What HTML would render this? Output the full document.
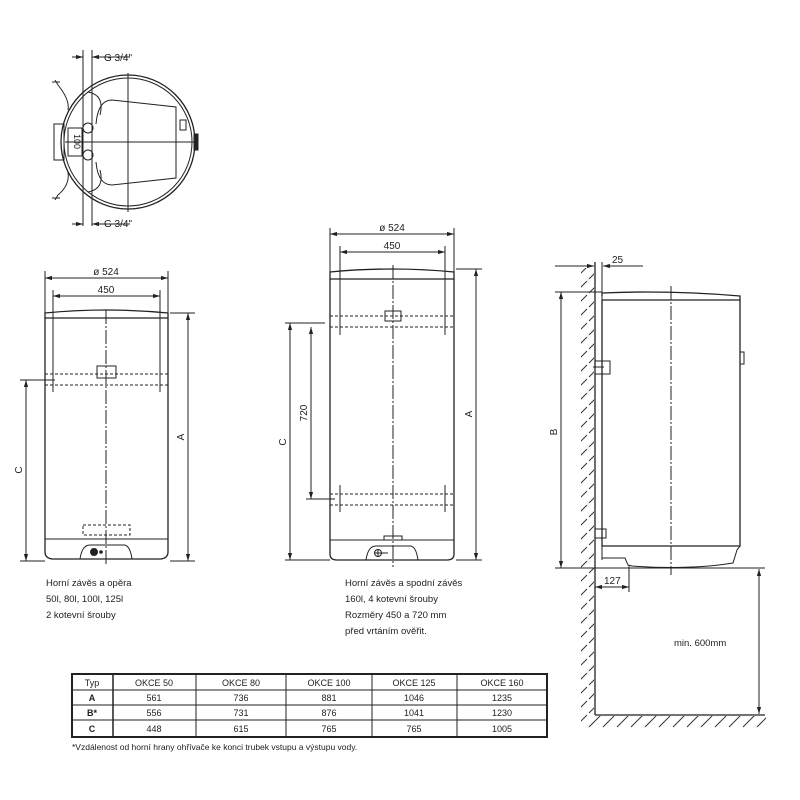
<!DOCTYPE html>
<html><head><meta charset="utf-8"><style>
body{margin:0;background:#fff}
svg{display:block}
text{font-family:"Liberation Sans",sans-serif;fill:#222}
</style></head><body>
<svg width="800" height="800" viewBox="0 0 800 800" xmlns="http://www.w3.org/2000/svg">
<defs>
<marker id="a" viewBox="0 0 10 10" refX="10" refY="5" markerWidth="7" markerHeight="7" orient="auto-start-reverse"><path d="M0,2 L10,5 L0,8 z" fill="#222"/></marker>
<pattern id="h" width="14" height="14" patternUnits="userSpaceOnUse"><path d="M1,13 L13,1" stroke="#333" stroke-width="1"/></pattern>
</defs>
<g stroke="#222" fill="none" stroke-width="1">

<!-- TOP VIEW -->
<circle cx="128" cy="142" r="67" stroke-width="1.3"/>
<circle cx="128" cy="142" r="64"/>
<line x1="128" y1="73" x2="128" y2="212"/>
<line x1="65" y1="142" x2="198" y2="142"/>
<line x1="83" y1="50" x2="83" y2="226"/><line x1="92" y1="50" x2="92" y2="226"/>
<line x1="72" y1="57" x2="83" y2="57" marker-end="url(#a)"/><line x1="130" y1="57" x2="92" y2="57" marker-end="url(#a)"/>
<line x1="72" y1="224" x2="83" y2="224" marker-end="url(#a)"/><line x1="130" y1="224" x2="92" y2="224" marker-end="url(#a)"/>
<path d="M96,124 Q98,100 112,100 L176,107 L176,178 L112,185 Q98,185 96,162"/>
<path d="M88,92 Q105,95 100,115"/><path d="M88,192 Q105,189 100,170"/>
<rect x="54" y="124" width="10" height="36"/>
<path d="M55,80 L58,85 Q70,100 68,110"/><path d="M55,200 L58,195 Q70,185 68,172"/>
<line x1="52" y1="82" x2="60" y2="82"/><line x1="52" y1="198" x2="60" y2="198"/>
<rect x="68" y="128" width="14" height="28"/>
<circle cx="88" cy="128" r="5"/><circle cx="88" cy="155" r="5"/>
<rect x="194" y="134" width="4" height="16" fill="#222"/>
<rect x="180" y="120" width="6" height="10"/>

<!-- LEFT HEATER -->
<line x1="45" y1="271" x2="45" y2="318"/><line x1="168" y1="271" x2="168" y2="318"/>
<line x1="45" y1="278" x2="168" y2="278" marker-start="url(#a)" marker-end="url(#a)"/>
<line x1="53" y1="290" x2="53" y2="392"/><line x1="160" y1="290" x2="160" y2="392"/>
<line x1="53" y1="296" x2="160" y2="296" marker-start="url(#a)" marker-end="url(#a)"/>
<path d="M45,318 L45,313 Q106,307 168,313 L168,318 Z" stroke-width="1.3"/>
<path d="M45,318 L45,552 Q45,558 52,559 L161,559 Q168,558 168,552 L168,318" stroke-width="1.3"/>
<line x1="45" y1="539" x2="168" y2="539"/>
<path d="M80,559 Q82,545 90,545 L124,545 Q130,545 132,559"/>
<circle cx="94" cy="552" r="3.5" fill="#222"/><circle cx="101" cy="552" r="1.3" fill="#222"/>
<rect x="97" y="366" width="19" height="12"/>
<line x1="45" y1="374" x2="168" y2="374" stroke-dasharray="3,2"/>
<line x1="45" y1="385" x2="168" y2="385" stroke-dasharray="3,2"/>
<rect x="83" y="525" width="47" height="10" stroke-dasharray="3,2"/>
<line x1="106" y1="310" x2="106" y2="566" stroke-dasharray="14,2,2,2"/>
<line x1="170" y1="313" x2="195" y2="313"/><line x1="170" y1="561" x2="195" y2="561"/>
<line x1="188" y1="313" x2="188" y2="561" marker-start="url(#a)" marker-end="url(#a)"/>
<line x1="20" y1="380" x2="55" y2="380"/><line x1="20" y1="561" x2="45" y2="561"/>
<line x1="26" y1="380" x2="26" y2="561" marker-start="url(#a)" marker-end="url(#a)"/>

<!-- MIDDLE HEATER -->
<line x1="330" y1="228" x2="330" y2="275"/><line x1="454" y1="228" x2="454" y2="275"/>
<line x1="330" y1="234" x2="454" y2="234" marker-start="url(#a)" marker-end="url(#a)"/>
<line x1="340" y1="246" x2="340" y2="335"/><line x1="445" y1="246" x2="445" y2="335"/>
<line x1="340" y1="252" x2="445" y2="252" marker-start="url(#a)" marker-end="url(#a)"/>
<path d="M330,279 L330,272 Q392,266 454,272 L454,279 Z" stroke-width="1.3"/>
<path d="M330,279 L330,554 Q330,560 337,560 L447,560 Q454,560 454,554 L454,279" stroke-width="1.3"/>
<line x1="330" y1="540" x2="454" y2="540"/>
<rect x="384" y="536" width="18" height="4"/>
<path d="M366,560 Q368,546 376,546 L410,546 Q416,546 418,560"/>
<circle cx="378" cy="553" r="3.5"/><line x1="374" y1="553" x2="388" y2="553"/><line x1="378" y1="549" x2="378" y2="557"/>
<rect x="385" y="311" width="16" height="10"/>
<line x1="330" y1="316" x2="454" y2="316" stroke-dasharray="3,2"/><line x1="330" y1="327" x2="454" y2="327" stroke-dasharray="3,2"/>
<line x1="330" y1="494" x2="454" y2="494" stroke-dasharray="3,2"/><line x1="330" y1="505" x2="454" y2="505" stroke-dasharray="3,2"/>
<line x1="340" y1="485" x2="340" y2="512"/><line x1="445" y1="485" x2="445" y2="512"/>
<line x1="393" y1="265" x2="393" y2="567" stroke-dasharray="14,2,2,2"/>
<line x1="456" y1="269" x2="482" y2="269"/><line x1="456" y1="560" x2="482" y2="560"/>
<line x1="476" y1="269" x2="476" y2="560" marker-start="url(#a)" marker-end="url(#a)"/>
<line x1="285" y1="323" x2="325" y2="323"/><line x1="285" y1="560" x2="330" y2="560"/>
<line x1="290" y1="323" x2="290" y2="560" marker-start="url(#a)" marker-end="url(#a)"/>
<line x1="306" y1="499" x2="335" y2="499"/>
<line x1="311" y1="327" x2="311" y2="499" marker-start="url(#a)" marker-end="url(#a)"/>

<!-- RIGHT SIDE VIEW -->
<rect x="581" y="268" width="13" height="460" fill="url(#h)" stroke="none"/>
<rect x="594" y="716" width="172" height="12" fill="url(#h)" stroke="none"/>
<line x1="595" y1="262" x2="595" y2="715" stroke-width="1.3"/>
<line x1="595" y1="715" x2="765" y2="715" stroke-width="1.3"/>
<line x1="602" y1="262" x2="602" y2="560"/>
<line x1="555" y1="266" x2="594" y2="266" marker-end="url(#a)"/><line x1="643" y1="266" x2="603" y2="266" marker-end="url(#a)"/>
<path d="M602,296 L602,293 Q670,290 740,296 L740,300 L602,300" stroke-width="1.3"/>
<path d="M602,300 L602,546 L740,546 L740,300" stroke-width="1.3"/>
<path d="M602,546 L602,558 L625,558 L628,565 L632,566 Q690,570 733,563 L737,550 L740,546"/>
<rect x="740" y="352" width="4" height="12"/>
<rect x="595" y="361" width="15" height="13"/><line x1="593" y1="367" x2="604" y2="367"/>
<rect x="595" y="529" width="11" height="9"/>
<line x1="671" y1="286" x2="671" y2="575" stroke-dasharray="14,2,2,2"/>
<line x1="555" y1="292" x2="602" y2="292"/><line x1="555" y1="568" x2="765" y2="568"/>
<line x1="561" y1="292" x2="561" y2="568" marker-start="url(#a)" marker-end="url(#a)"/>
<line x1="629" y1="565" x2="629" y2="592"/>
<line x1="595" y1="587" x2="629" y2="587" marker-start="url(#a)" marker-end="url(#a)"/>
<line x1="759" y1="569" x2="759" y2="714" marker-start="url(#a)" marker-end="url(#a)"/>

<!-- TABLE -->
<rect x="72" y="674" width="475" height="63" stroke-width="2"/>
<line x1="72" y1="690" x2="547" y2="690"/><line x1="72" y1="705" x2="547" y2="705"/><line x1="72" y1="720" x2="547" y2="720"/>
<line x1="113" y1="674" x2="113" y2="737" stroke-width="1.5"/><line x1="196" y1="674" x2="196" y2="737"/><line x1="286" y1="674" x2="286" y2="737"/><line x1="372" y1="674" x2="372" y2="737"/><line x1="457" y1="674" x2="457" y2="737"/>
</g>

<g font-size="10">
<text x="104" y="61">G 3/4"</text><text x="104" y="227">G 3/4"</text>
<text x="0" y="0" transform="translate(74,134) rotate(90)" font-size="9">100</text>
<text x="106" y="275" text-anchor="middle">ø 524</text>
<text x="106" y="293" text-anchor="middle">450</text>
<text x="0" y="0" transform="translate(184,437) rotate(-90)" text-anchor="middle">A</text>
<text x="0" y="0" transform="translate(22,470) rotate(-90)" text-anchor="middle">C</text>
<text x="46" y="586" font-size="9.5">Horní závěs a opěra</text>
<text x="46" y="602" font-size="9.5">50l, 80l, 100l, 125l</text>
<text x="46" y="618" font-size="9.5">2 kotevní šrouby</text>
<text x="392" y="231" text-anchor="middle">ø 524</text>
<text x="392" y="249" text-anchor="middle">450</text>
<text x="0" y="0" transform="translate(472,414) rotate(-90)" text-anchor="middle">A</text>
<text x="0" y="0" transform="translate(286,442) rotate(-90)" text-anchor="middle">C</text>
<text x="0" y="0" transform="translate(307,413) rotate(-90)" text-anchor="middle">720</text>
<text x="345" y="586" font-size="9.5">Horní závěs a spodní závěs</text>
<text x="345" y="602" font-size="9.5">160l, 4 kotevní šrouby</text>
<text x="345" y="618" font-size="9.5">Rozměry 450 a 720 mm</text>
<text x="345" y="634" font-size="9.5">před vrtáním ověřit.</text>
<text x="612" y="263">25</text>
<text x="0" y="0" transform="translate(557,432) rotate(-90)" text-anchor="middle">B</text>
<text x="604" y="584">127</text>
<text x="674" y="646" font-size="9.5">min. 600mm</text>
</g>
<g font-size="9" text-anchor="middle">
<text x="92" y="686">Typ</text><text x="154" y="686">OKCE 50</text><text x="241" y="686">OKCE 80</text><text x="329" y="686">OKCE 100</text><text x="414" y="686">OKCE 125</text><text x="502" y="686">OKCE 160</text>
<text x="92" y="701" font-weight="bold">A</text><text x="154" y="701">561</text><text x="241" y="701">736</text><text x="329" y="701">881</text><text x="414" y="701">1046</text><text x="502" y="701">1235</text>
<text x="92" y="716" font-weight="bold">B*</text><text x="154" y="716">556</text><text x="241" y="716">731</text><text x="329" y="716">876</text><text x="414" y="716">1041</text><text x="502" y="716">1230</text>
<text x="92" y="732" font-weight="bold">C</text><text x="154" y="732">448</text><text x="241" y="732">615</text><text x="329" y="732">765</text><text x="414" y="732">765</text><text x="502" y="732">1005</text>
</g>
<text x="72" y="750" font-size="8.5">*Vzdálenost od horní hrany ohřívače ke konci trubek vstupu a výstupu vody.</text>
</svg>
</body></html>
